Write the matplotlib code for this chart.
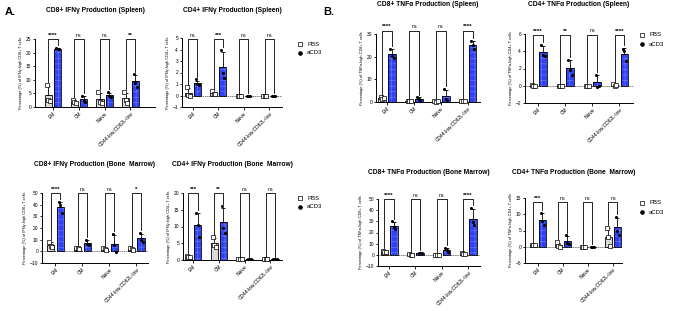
import numpy as np
import matplotlib
matplotlib.use("Agg")
import matplotlib.pyplot as plt

plt.rcParams['font.family'] = ['Liberation Sans', 'DejaVu Sans']
plt.rcParams['hatch.linewidth'] = 0.35

W, H = 677, 311

groups = ["EM", "CM", "Naive", "CD44-low,CD62L-low"]

# ---- panel data (bar heights, SD, individual mice, significance) ----
titles = [
    "CD8+ IFNγ Production (Spleen)",
    "CD4+ IFNγ Production (Spleen)",
    "CD8+ TNFα Production (Spleen)",
    "CD4+ TNFα Production (Spleen)",
    "CD8+ IFNγ Production (Bone  Marrow)",
    "CD4+ IFNγ Production (Bone  Marrow)",
    "CD8+ TNFα Production (Bone Marrow)",
    "CD4+ TNFα Production (Bone  Marrow)",
]
ylabels = [
    "Percentage (%) of IFNγ-high CD8+ T cells",
    "Percentage (%) of IFNγ-high CD4+ T cells",
    "Percentage (%) of TNFα-high CD8+ T cells",
    "Percentage (%) of TNFα-high CD4+ T cells",
    "Percentage (%) of IFNγ-high CD8+ T cells",
    "Percentage (%) of IFNγ-high CD4+ T cells",
    "Percentage (%) of TNFα-high CD8+ T cells",
    "Percentage (%) of TNFα-high CD4+ T cells",
]

pbs_mean = [
    [4.3, 2.0, 3.0, 3.2],
    [0.25, 0.2, 0.0, 0.0],
    [1.8, 0.5, 0.3, 0.4],
    [0.02, 0.0, 0.0, 0.05],
    [5.5, 2.5, 2.0, 2.0],
    [1.0, 5.0, 0.2, 0.2],
    [3.0, 0.3, 0.2, 1.0],
    [0.5, 0.5, 0.0, 3.0],
]
pbs_sd = [
    [3.4, 0.5, 2.2, 2.0],
    [0.4, 0.1, 0.0, 0.0],
    [0.3, 0.2, 0.1, 0.1],
    [0.03, 0.0, 0.0, 0.08],
    [2.2, 0.5, 0.5, 0.5],
    [0.3, 1.6, 0.0, 0.0],
    [0.5, 0.2, 0.1, 0.2],
    [0.1, 0.8, 0.0, 2.8],
]
pbs_pts = [
    [[8.2, 2.6, 2.1], [2.5, 2.0, 1.5], [5.5, 2.0, 1.5], [5.5, 2.5, 1.6]],
    [[0.7, 0.05, 0.0], [0.35, 0.1, 0.15], [0.0, 0.0, 0.0], [0.0, 0.0, 0.0]],
    [[2.0, 1.5, 1.8], [0.6, 0.4, 0.3], [0.3, 0.2, 0.4], [0.5, 0.3, 0.4]],
    [[0.05, 0.0, 0.0], [0.0, 0.0, 0.0], [0.0, 0.0, 0.0], [0.15, 0.0, 0.05]],
    [[8.0, 4.5, 4.0], [3.0, 2.5, 2.0], [2.5, 2.0, 1.5], [2.5, 2.0, 1.5]],
    [[1.3, 0.8, 0.9], [6.8, 4.5, 3.8], [0.2, 0.2, 0.2], [0.2, 0.2, 0.2]],
    [[3.5, 2.8, 2.7], [0.5, 0.2, 0.2], [0.2, 0.2, 0.2], [1.2, 0.8, 1.0]],
    [[0.6, 0.4, 0.5], [1.5, 0.1, 0.0], [0.0, 0.0, 0.0], [5.8, 3.0, 0.2]],
]

acd3_mean = [
    [21.5, 2.8, 4.3, 9.5],
    [1.05, 2.5, 0.0, 0.0],
    [21.2, 1.5, 2.8, 25.0],
    [3.9, 2.05, 0.4, 3.7],
    [38.0, 7.0, 6.5, 11.0],
    [10.4, 11.2, 0.2, 0.2],
    [26.0, 1.5, 4.5, 32.5],
    [8.3, 1.9, 0.0, 6.0],
]
acd3_sd = [
    [0.2, 1.2, 1.0, 2.3],
    [0.25, 1.3, 0.0, 0.0],
    [2.1, 0.5, 2.7, 1.8],
    [0.7, 0.9, 0.8, 0.7],
    [4.6, 2.6, 7.8, 4.0],
    [3.6, 4.2, 0.0, 0.0],
    [3.6, 0.4, 2.0, 8.5],
    [2.0, 1.4, 0.0, 2.9],
]
acd3_pts = [
    [[21.6, 21.4, 21.5], [4.2, 2.2, 2.0], [5.5, 4.0, 3.5], [12.0, 9.0, 7.5]],
    [[1.4, 1.0, 0.9], [4.0, 2.0, 1.5], [0.0, 0.0, 0.0], [0.0, 0.0, 0.0]],
    [[23.5, 20.5, 19.5], [2.0, 1.5, 1.0], [5.8, 1.5, 1.0], [27.0, 25.0, 23.5]],
    [[4.7, 3.6, 3.4], [3.0, 1.8, 1.3], [1.3, -0.1, 0.0], [4.3, 4.0, 2.9]],
    [[42.0, 40.0, 33.0], [10.0, 6.0, 5.0], [15.0, 5.0, -0.5], [15.5, 9.5, 8.0]],
    [[14.0, 10.5, 6.8], [16.0, 9.5, 8.0], [0.2, 0.2, 0.2], [0.2, 0.2, 0.2]],
    [[30.0, 25.0, 23.0], [2.0, 1.3, 1.2], [6.5, 4.5, 2.5], [42.0, 29.0, 26.5]],
    [[10.5, 7.8, 6.6], [3.5, 1.2, 1.0], [0.0, 0.0, 0.0], [9.3, 5.0, 3.7]],
]

signif = [
    ["****", "ns", "ns", "**"],
    ["ns", "***", "ns", "ns"],
    ["****", "ns", "ns", "****"],
    ["****", "**", "ns", "****"],
    ["****", "ns", "ns", "*"],
    ["***", "**", "ns", "ns"],
    ["****", "ns", "ns", "****"],
    ["***", "ns", "ns", "ns"],
]

yticks = [
    [0, 5, 10, 15, 20, 25],
    [-1, 0, 1, 2, 3, 4, 5],
    [0, 10, 20, 30],
    [-2, 0, 2, 4, 6],
    [-10, 0, 10, 20, 30, 40, 50],
    [0, 5, 10, 15, 20],
    [-10, 0, 10, 20, 30, 40, 50],
    [-5, 0, 5, 10, 15],
]

# ---- layout in pixels: left, right, top, bottom, xlim, bracket top, title y ----
boxes = [
    (35, 155, 39, 107, (-0.7, 3.95), 25.0, 11),
    (182, 282, 38, 107, (-0.42, 3.5), 4.9, 11),
    (376, 480, 34, 102, (-0.41, 3.45), 31.5, 5),
    (525, 633, 34, 103, (-0.48, 3.5), 5.9, 5),
    (42, 148, 193, 263, (-0.5, 3.43), 50.0, 165),
    (183, 282, 193, 260, (-0.39, 3.45), 20.0, 165),
    (378, 480, 199, 266, (-0.42, 3.45), 50.0, 173),
    (525, 622, 198, 263, (-0.5, 3.36), 13.8, 173),
]
legend_at = {1: (300, 44), 3: (642, 35), 5: (300, 198), 7: (642, 203)}

fig = plt.figure(figsize=(W / 100, H / 100), dpi=100)

blue = "#3142f5"
hatch_col = "#7583ff"
grey = "#d9d9d9"
off = 0.18
bw = 0.28
x = np.arange(len(groups))

for i in range(8):
    l, r, t, b, xl, btop, ty = boxes[i]
    ax = fig.add_axes([l / W, 1 - b / H, (r - l) / W, (b - t) / H])
    ymin, ymax = yticks[i][0], yticks[i][-1]
    yr = ymax - ymin

    if ymin < 0:
        ax.axhline(0, color="k", lw=0.6, ls=(0, (1, 1.5)), zorder=1)

    # PBS bars
    ax.bar(x - off, pbs_mean[i], bw, color=grey, edgecolor="k", lw=0.6, zorder=2)
    ax.errorbar(x - off, pbs_mean[i], yerr=[np.zeros(4), pbs_sd[i]], fmt="none",
                ecolor="k", elinewidth=0.6, capsize=1.2, capthick=0.6, zorder=3)
    # aCD3 bars: hatched fill then black outline
    ax.bar(x + off, acd3_mean[i], bw, color=blue, edgecolor=hatch_col, lw=0,
           hatch="+++", zorder=2)
    ax.bar(x + off, acd3_mean[i], bw, fill=False, edgecolor="k", lw=0.6, zorder=3)
    ax.errorbar(x + off, acd3_mean[i], yerr=[np.zeros(4), acd3_sd[i]], fmt="none",
                ecolor="k", elinewidth=0.6, capsize=1.2, capthick=0.6, zorder=3)

    jit = np.array([-0.06, 0.0, 0.06])
    for g in range(4):
        ax.scatter(x[g] - off + jit, pbs_pts[i][g], s=5, marker="s",
                   facecolor="white", edgecolor="k", lw=0.5, zorder=4,
                   clip_on=False)
        ax.scatter(x[g] + off + jit, acd3_pts[i][g], s=5, marker="o",
                   color="k", lw=0, zorder=4, clip_on=False)

        # significance bracket
        top_l = max(pbs_mean[i][g] + pbs_sd[i][g], max(pbs_pts[i][g])) + 0.04 * yr
        top_r = max(acd3_mean[i][g] + acd3_sd[i][g], max(acd3_pts[i][g])) + 0.04 * yr
        x1, x2 = x[g] - off, x[g] + off
        ax.plot([x1, x1, x2, x2], [top_l, btop, btop, top_r], color="k",
                lw=0.6, clip_on=False, zorder=5)
        s = signif[i][g]
        ax.text(x[g], btop + 0.02 * yr, s, ha="center", va="bottom",
                fontsize=4.4 if s != "ns" else 3.8,
                fontweight="bold" if s != "ns" else "normal", clip_on=False)

    ax.set_xlim(*xl)
    ax.set_ylim(ymin, ymax)
    ax.set_yticks(yticks[i])
    ax.set_xticks(x)
    ax.set_xticklabels(groups, rotation=45, ha="right", rotation_mode="anchor")
    ax.tick_params(axis="both", labelsize=3.5, length=1.8, width=0.6, pad=1)
    for sp in ["top", "right"]:
        ax.spines[sp].set_visible(False)
    for sp in ["left", "bottom"]:
        ax.spines[sp].set_linewidth(0.7)
    ax.set_ylabel(ylabels[i], fontsize=2.8, labelpad=2)

    fig.text((l + r) / 2 / W, 1 - ty / H, titles[i], ha="center", va="center",
             fontsize=4.8, fontweight="bold")

    if i in legend_at:
        lx, ly = legend_at[i]
        fig.lines.append(plt.Line2D([lx / W], [1 - ly / H], marker="s", ms=2.5,
                                    mfc="white", mec="k", mew=0.5, ls="none",
                                    transform=fig.transFigure))
        fig.lines.append(plt.Line2D([lx / W], [1 - (ly + 9) / H], marker="o", ms=2.3,
                                    mfc="k", mec="k", ls="none",
                                    transform=fig.transFigure))
        fig.text((lx + 7) / W, 1 - ly / H, "PBS", fontsize=4.3, va="center")
        fig.text((lx + 7) / W, 1 - (ly + 9) / H, "aCD3", fontsize=4.3, va="center")

fig.text(5 / W, 1 - 12 / H, "A.", fontsize=8, fontweight="bold", va="center")
fig.text(323 / W, 1 - 12 / H, "B.", fontsize=8, fontweight="bold", va="center")

fig.savefig("out.png", dpi=100)
